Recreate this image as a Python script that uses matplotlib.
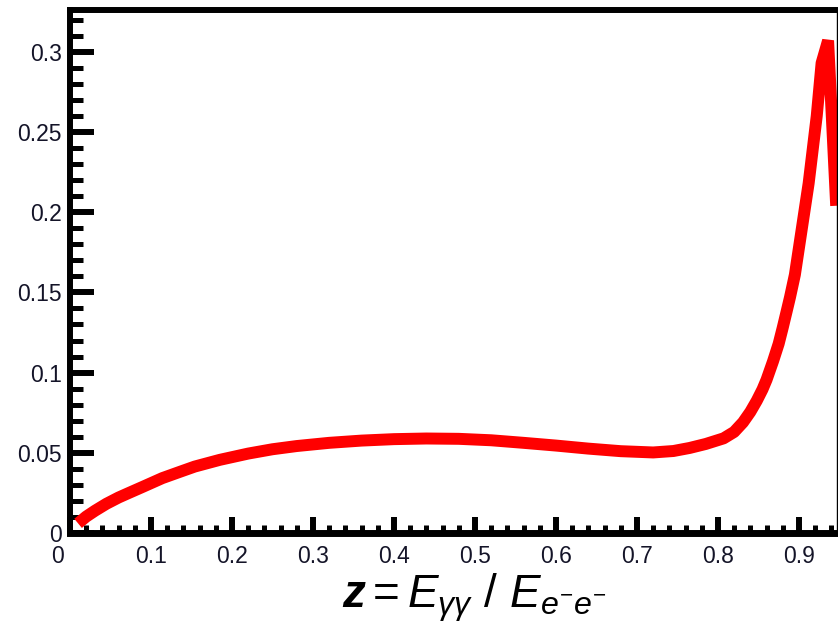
import matplotlib
matplotlib.use("Agg")
import matplotlib.pyplot as plt
import matplotlib.transforms as mtransforms
from matplotlib.ticker import MultipleLocator

plt.rcParams['font.family'] = ['Liberation Sans', 'DejaVu Sans']
plt.rcParams['mathtext.fontset'] = 'custom'
plt.rcParams['mathtext.rm'] = 'Liberation Sans'
plt.rcParams['mathtext.it'] = 'Liberation Sans:italic'
plt.rcParams['mathtext.bf'] = 'Liberation Sans:italic:bold'

# values
z = [0.010, 0.020, 0.031, 0.045, 0.060, 0.072, 0.090, 0.114, 0.135, 0.154,
     0.185, 0.220, 0.250, 0.280, 0.320, 0.360, 0.400, 0.440, 0.480, 0.520,
     0.560, 0.600, 0.640, 0.680, 0.720, 0.745, 0.765, 0.785, 0.807, 0.820,
     0.831, 0.840, 0.848, 0.855, 0.860, 0.868, 0.875, 0.880, 0.885, 0.889,
     0.895, 0.912, 0.922, 0.928, 0.936, 0.946]
lum = [0.0060, 0.0102, 0.0139, 0.0182, 0.0221, 0.0248, 0.0288, 0.0342, 0.0380, 0.0414,
       0.0456, 0.0495, 0.0522, 0.0542, 0.0562, 0.0576, 0.0585, 0.0589, 0.0587, 0.0578,
       0.0562, 0.0545, 0.0526, 0.0510, 0.0502, 0.0511, 0.0530, 0.0555, 0.0590, 0.0630,
       0.0690, 0.0755, 0.0825, 0.0895, 0.0955, 0.1070, 0.1180, 0.1280, 0.1385, 0.1470,
       0.1610, 0.2180, 0.2600, 0.2930, 0.3070, 0.2040]

xticks = [0, 0.1, 0.2, 0.3, 0.4, 0.5, 0.6, 0.7, 0.8, 0.9]
xlabels = ['0', '0.1', '0.2', '0.3', '0.4', '0.5', '0.6', '0.7', '0.8', '0.9']
yticks = [0, 0.05, 0.1, 0.15, 0.2, 0.25, 0.3]
ylabels = ['0', '0.05', '0.1', '0.15', '0.2', '0.25', '0.3']

fig = plt.figure(figsize=(8.38, 6.3), dpi=100)
ax = fig.add_axes([0.0835, 0.154, 0.9153, 0.830])

ax.plot(z, lum, color='#ff0000', linewidth=8.6, solid_capstyle='butt',
        solid_joinstyle='bevel')

ax.set_xlim(0, 0.947)
ax.set_ylim(0, 0.326)

ax.set_xticks(xticks)
ax.set_xticklabels(xlabels)
ax.set_yticks(yticks)
ax.set_yticklabels(ylabels)
ax.xaxis.set_minor_locator(MultipleLocator(0.02))
ax.yaxis.set_minor_locator(MultipleLocator(0.01))

txt_col = '#141428'
ax.tick_params(axis='x', which='major', direction='in', length=11.5, width=4.3,
               pad=9, labelsize=16.5, labelcolor=txt_col, top=False)
ax.tick_params(axis='x', which='minor', direction='in', length=5.8, width=3.6, top=False)
ax.tick_params(axis='y', which='major', direction='in', length=17, width=4.3,
               pad=6, labelsize=16.5, labelcolor=txt_col, right=False)
ax.tick_params(axis='y', which='minor', direction='in', length=9.4, width=3.6, right=False)

ax.spines['left'].set_linewidth(4.3)
ax.spines['bottom'].set_linewidth(5.0)
ax.spines['top'].set_linewidth(4.3)
ax.spines['right'].set_linewidth(1.0)

# the "0" on the x axis sits a bit left of its tick
shift = mtransforms.ScaledTranslation(-12 / 100, 0, fig.dpi_scale_trans)
xl0 = ax.get_xticklabels()[0]
xl0.set_transform(xl0.get_transform() + shift)

fig.text(0.566, 0.035,
         r'$\mathbf{z} = E_{\gamma\gamma}\ /\ E_{e^{-}e^{-}}$',
         fontsize=33, ha='center', va='baseline', color='black')

plt.savefig('out.png', dpi=100)
